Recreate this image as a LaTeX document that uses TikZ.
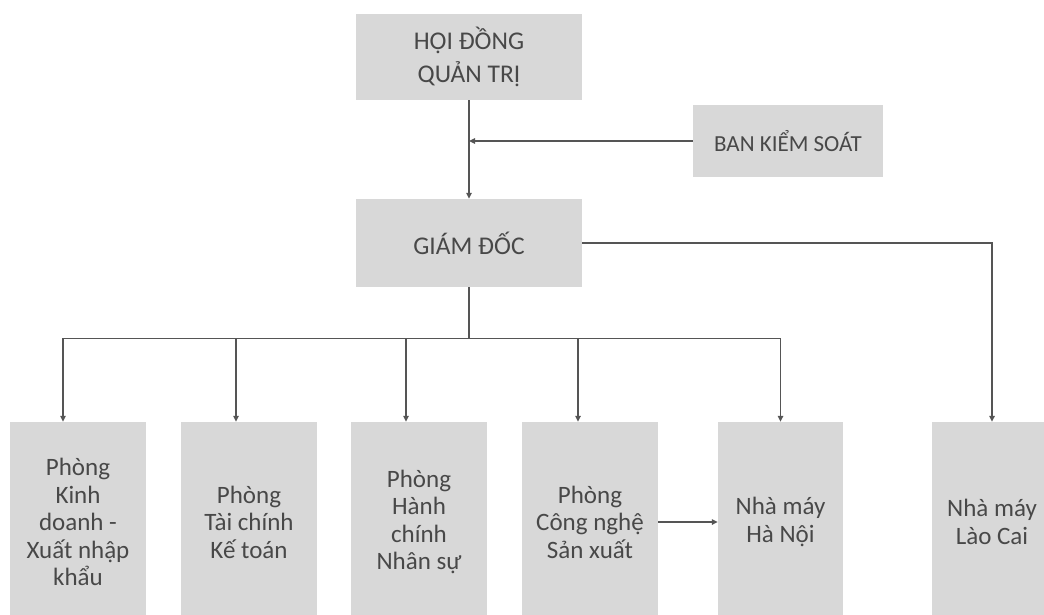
\documentclass[tikz,border=0pt]{standalone}
\usepackage{fontspec}
\setmainfont{Carlito}
\usetikzlibrary{arrows.meta}
\definecolor{boxgray}{RGB}{216,216,216}
\definecolor{ink}{RGB}{72,72,72}
\definecolor{linegray}{RGB}{85,85,85}
\begin{document}
\begin{tikzpicture}[x=1pt,y=-1pt,
  box/.style={fill=boxgray,draw=none,inner sep=0pt,align=center,text=ink},
  topbox/.style={box,font=\fontsize{25.5}{33}\selectfont},
  lowbox/.style={box,font=\fontsize{25}{27.5}\selectfont,minimum height=200},
  conn/.style={draw=linegray,line width=1.4pt},
  arr/.style={conn,-{Triangle[length=6pt,width=5.5pt]}}]
\useasboundingbox (0,0) rectangle (1044,614);
\clip (0,0) rectangle (1044,614);
\node[topbox,minimum width=226,minimum height=86] (hdqt) at (469,57) {HỘI ĐỒNG\\QUẢN TRỊ};
\node[topbox,minimum width=190,minimum height=72,font=\fontsize{23}{27}\selectfont] (bks) at (788,141) {BAN KIỂM SOÁT};
\node[topbox,minimum width=226,minimum height=88] (gd) at (469,243) {GIÁM ĐỐC};
\node[lowbox,minimum width=136] (b1) at (78,522) {Phòng\\Kinh\\doanh -\\Xuất nhập\\khẩu};
\node[lowbox,minimum width=136] (b2) at (249,522) {Phòng\\Tài chính\\Kế toán};
\node[lowbox,minimum width=136] (b3) at (419,522) {Phòng\\Hành\\chính\\Nhân sự};
\node[lowbox,minimum width=136] (b4) at (590,522) {Phòng\\Công nghệ\\Sản xuất};
\node[lowbox,minimum width=125] (b5) at (780.5,522) {Nhà máy\\Hà Nội};
\node[lowbox,minimum width=120] (b6) at (992,522) {Nhà máy\\Lào Cai};
% connectors
\draw[arr] (hdqt.south) -- (gd.north);
\draw[arr] (bks.west) -- (bks.west -| hdqt.south);
\draw[arr] (gd.east) -| (b6.north);
\draw[conn] (gd.south) -- ++(0,51) coordinate (bj);
\draw[arr] (bj) -| ([xshift=-15pt]b1.north);
\draw[arr] (bj) -| ([xshift=-13pt]b2.north);
\draw[arr] (bj) -| ([xshift=-13pt]b3.north);
\draw[arr] (bj) -| ([xshift=-12pt]b4.north);
\draw[arr] (bj) -| (b5.north);
\draw[arr] (b4.east) -- (b5.west);
\end{tikzpicture}
\end{document}
